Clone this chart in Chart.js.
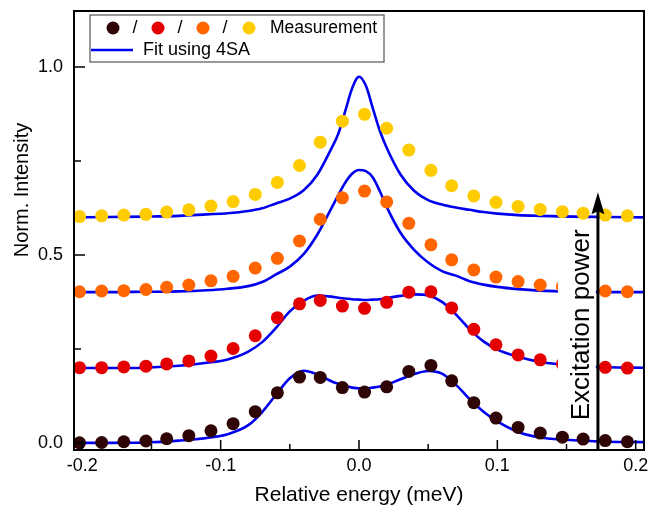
<!DOCTYPE html>
<html>
<head>
<meta charset="utf-8">
<script src="https://cdn.jsdelivr.net/npm/chart.js@4/dist/chart.umd.min.js"></script>
<style>
  html, body { margin: 0; padding: 0; background: #fff; }
  canvas { display: block; }
</style>
</head>
<body>
<canvas id="chart" width="666" height="514"></canvas>
<script>
// measured points (meV), shared by all four excitation powers
const energy = [-0.202, -0.186, -0.170, -0.154, -0.139, -0.123, -0.107, -0.091, -0.075, -0.059,
  -0.043, -0.028, -0.012, 0.004, 0.020, 0.036, 0.052, 0.067, 0.083, 0.099,
  0.115, 0.131, 0.147, 0.162, 0.178, 0.194];

const measDark = [0.000, 0.001, 0.003, 0.005, 0.011, 0.019, 0.032, 0.051, 0.083, 0.133,
  0.175, 0.174, 0.147, 0.135, 0.149, 0.190, 0.206, 0.165, 0.107, 0.066,
  0.041, 0.026, 0.015, 0.010, 0.006, 0.003];
const measRed = [0.200, 0.200, 0.202, 0.204, 0.210, 0.218, 0.231, 0.251, 0.285, 0.333,
  0.370, 0.379, 0.364, 0.358, 0.374, 0.401, 0.402, 0.359, 0.302, 0.261,
  0.234, 0.221, 0.210, 0.206, 0.201, 0.199];
const measOrange = [0.402, 0.404, 0.405, 0.408, 0.414, 0.420, 0.431, 0.443, 0.465, 0.491,
  0.537, 0.595, 0.652, 0.670, 0.641, 0.584, 0.527, 0.487, 0.460, 0.441,
  0.429, 0.420, 0.416, 0.410, 0.404, 0.402];
const measYellow = [0.602, 0.604, 0.606, 0.608, 0.614, 0.620, 0.630, 0.642, 0.661, 0.693,
  0.738, 0.800, 0.856, 0.874, 0.837, 0.779, 0.725, 0.684, 0.657, 0.640,
  0.629, 0.621, 0.615, 0.611, 0.606, 0.604];

const fitEnergy = [-0.206, -0.18, -0.155, -0.13, -0.11, -0.095, -0.08, -0.07, -0.06, -0.05,
  -0.04, -0.03, -0.02, -0.015, -0.01, -0.005, 0, 0.005, 0.01, 0.015,
  0.02, 0.03, 0.04, 0.05, 0.06, 0.07, 0.08, 0.09, 0.1, 0.115,
  0.13, 0.155, 0.18, 0.206];

const fitDark = [0.000, 0.000, 0.001, 0.006, 0.013, 0.023, 0.047, 0.082, 0.128, 0.172,
  0.192, 0.182, 0.164, 0.157, 0.151, 0.147, 0.145, 0.145, 0.147, 0.150,
  0.155, 0.169, 0.183, 0.191, 0.184, 0.155, 0.116, 0.083, 0.057, 0.029,
  0.015, 0.007, 0.003, 0.002];
const fitRed = [0.199, 0.199, 0.200, 0.205, 0.213, 0.222, 0.243, 0.268, 0.306, 0.350,
  0.378, 0.392, 0.389, 0.386, 0.384, 0.382, 0.381, 0.380, 0.381, 0.382,
  0.385, 0.391, 0.395, 0.392, 0.375, 0.342, 0.302, 0.270, 0.248, 0.229,
  0.216, 0.206, 0.201, 0.200];
const fitOrange = [0.401, 0.401, 0.402, 0.403, 0.406, 0.410, 0.417, 0.428, 0.448, 0.469,
  0.502, 0.555, 0.624, 0.659, 0.692, 0.716, 0.726, 0.723, 0.706, 0.670,
  0.628, 0.559, 0.513, 0.480, 0.457, 0.445, 0.430, 0.421, 0.415, 0.409,
  0.405, 0.402, 0.401, 0.401];
const fitYellow = [0.600, 0.601, 0.602, 0.604, 0.608, 0.611, 0.617, 0.624, 0.637, 0.650,
  0.672, 0.714, 0.783, 0.822, 0.882, 0.943, 0.974, 0.950, 0.890, 0.831,
  0.785, 0.714, 0.670, 0.646, 0.634, 0.626, 0.620, 0.614, 0.610, 0.606,
  0.604, 0.602, 0.601, 0.600];

const xTicks = [-0.2, -0.1, 0, 0.1, 0.2];
const xMinorTicks = [-0.15, -0.05, 0.05, 0.15];
const yTicks = [0, 0.5, 1.0];
const yMinorTicks = [0.25, 0.75];

const colors = ['#2e0404', '#e40000', '#ff6600', '#ffcc00'];
const FIT_COLOR = '#0000ee';
const FONT = '"Liberation Sans", Arial, sans-serif';

const toXY = (xs, ys) => xs.map((x, i) => ({ x: x, y: ys[i] }));

const measured = [measDark, measRed, measOrange, measYellow];
const fits = [fitDark, fitRed, fitOrange, fitYellow];

const datasets = [];
measured.forEach((ys, i) => {
  datasets.push({
    type: 'scatter',
    data: toXY(energy, ys),
    backgroundColor: colors[i],
    borderWidth: 0,
    pointRadius: 6.5,
    order: 0
  });
});
fits.forEach(ys => {
  datasets.push({
    type: 'line',
    data: toXY(fitEnergy, ys),
    borderColor: FIT_COLOR,
    borderWidth: 2.6,
    pointRadius: 0,
    fill: false,
    cubicInterpolationMode: 'monotone',
    order: 1
  });
});

// the scales should not add label overflow padding
const noPadding = s => {
  s.paddingTop = 0; s.paddingBottom = 0;
  s.paddingLeft = 0; s.paddingRight = 0;
};

const decorations = {
  id: 'decorations',
  afterDatasetsDraw(chart) {
    const { ctx, chartArea: a, scales: { x, y } } = chart;
    ctx.save();

    // white patch behind the rotated label
    ctx.fillStyle = '#fff';
    const bx0 = x.getPixelForValue(0.1438), bx1 = x.getPixelForValue(0.1712);
    const by0 = y.getPixelForValue(0.588), by1 = y.getPixelForValue(0.04);
    ctx.fillRect(bx0, by0, bx1 - bx0, by1 - by0);

    ctx.fillStyle = '#000';
    ctx.font = '26px ' + FONT;
    ctx.translate(589, (by0 + by1) / 2);
    ctx.rotate(-Math.PI / 2);
    ctx.textAlign = 'center';
    ctx.textBaseline = 'alphabetic';
    ctx.fillText('Excitation power', 0, 0);
    ctx.setTransform(1, 0, 0, 1, 0, 0);

    // arrow
    const ax = x.getPixelForValue(0.1727);
    const tip = y.getPixelForValue(0.667);
    ctx.strokeStyle = '#000';
    ctx.lineWidth = 3;
    ctx.beginPath();
    ctx.moveTo(ax, a.bottom);
    ctx.lineTo(ax, tip + 18);
    ctx.stroke();
    ctx.beginPath();
    ctx.moveTo(ax, tip);
    ctx.lineTo(ax - 6.5, tip + 22);
    ctx.lineTo(ax, tip + 19);
    ctx.lineTo(ax + 6.5, tip + 22);
    ctx.closePath();
    ctx.fill();

    // frame and inward ticks
    ctx.lineWidth = 2;
    ctx.strokeRect(a.left, a.top, a.right - a.left, a.bottom - a.top);
    ctx.lineWidth = 1.5;
    ctx.beginPath();
    xTicks.forEach(v => {
      const px = x.getPixelForValue(v);
      ctx.moveTo(px, a.bottom); ctx.lineTo(px, a.bottom - 10);
    });
    xMinorTicks.forEach(v => {
      const px = x.getPixelForValue(v);
      ctx.moveTo(px, a.bottom); ctx.lineTo(px, a.bottom - 6);
    });
    yTicks.forEach(v => {
      const py = y.getPixelForValue(v);
      ctx.moveTo(a.left, py); ctx.lineTo(a.left + 11, py);
    });
    yMinorTicks.forEach(v => {
      const py = y.getPixelForValue(v);
      ctx.moveTo(a.left, py); ctx.lineTo(a.left + 7, py);
    });
    ctx.stroke();

    // legend
    ctx.fillStyle = '#fff';
    ctx.fillRect(90, 15, 294, 47);
    ctx.strokeStyle = '#555';
    ctx.lineWidth = 1.2;
    ctx.strokeRect(90, 15, 294, 47);

    const row1 = 28, row2 = 50;
    [113, 158, 203, 249].forEach((cx, i) => {
      ctx.fillStyle = colors[i];
      ctx.beginPath();
      ctx.arc(cx, row1, 6.5, 0, Math.PI * 2);
      ctx.fill();
    });
    ctx.fillStyle = '#000';
    ctx.font = '18px ' + FONT;
    ctx.textBaseline = 'middle';
    ctx.textAlign = 'center';
    [135, 180, 225].forEach(sx => ctx.fillText('/', sx, row1));
    ctx.textAlign = 'left';
    ctx.fillText('Fit using 4SA', 143, row2);
    ctx.font = '17.5px ' + FONT;
    ctx.fillText('Measurement', 270, row1);
    ctx.strokeStyle = FIT_COLOR;
    ctx.lineWidth = 2.6;
    ctx.beginPath();
    ctx.moveTo(91, row2);
    ctx.lineTo(133, row2);
    ctx.stroke();

    // axis titles
    ctx.fillStyle = '#000';
    ctx.font = '21px ' + FONT;
    ctx.textAlign = 'center';
    ctx.fillText('Relative energy (meV)', (a.left + a.right) / 2, 495);
    ctx.translate(22, 190);
    ctx.rotate(-Math.PI / 2);
    ctx.font = '20px ' + FONT;
    ctx.fillText('Norm. Intensity', 0, 0);
    ctx.restore();
  }
};

new Chart(document.getElementById('chart'), {
  type: 'scatter',
  data: { datasets: datasets },
  options: {
    responsive: false,
    animation: false,
    layout: { padding: { left: 0, top: 11, right: 22, bottom: 0 } },
    plugins: { legend: { display: false }, tooltip: { enabled: false } },
    scales: {
      x: {
        type: 'linear',
        min: -0.206,
        max: 0.206,
        afterBuildTicks: s => { s.ticks = xTicks.map(v => ({ value: v })); },
        afterFit: s => { s.height = 64; noPadding(s); },
        grid: { display: false, drawTicks: false },
        border: { display: false },
        ticks: {
          padding: 5,
          maxRotation: 0,
          color: '#000',
          font: { family: FONT, size: 18 },
          callback: v => v.toFixed(1)
        }
      },
      y: {
        type: 'linear',
        min: -0.019,
        max: 1.149,
        afterBuildTicks: s => { s.ticks = yTicks.map(v => ({ value: v })); },
        afterFit: s => { s.width = 74; noPadding(s); },
        grid: { display: false, drawTicks: false },
        border: { display: false },
        ticks: {
          padding: 11,
          color: '#000',
          font: { family: FONT, size: 18 },
          callback: v => v.toFixed(1)
        }
      }
    }
  },
  plugins: [decorations]
});
</script>
</body>
</html>
